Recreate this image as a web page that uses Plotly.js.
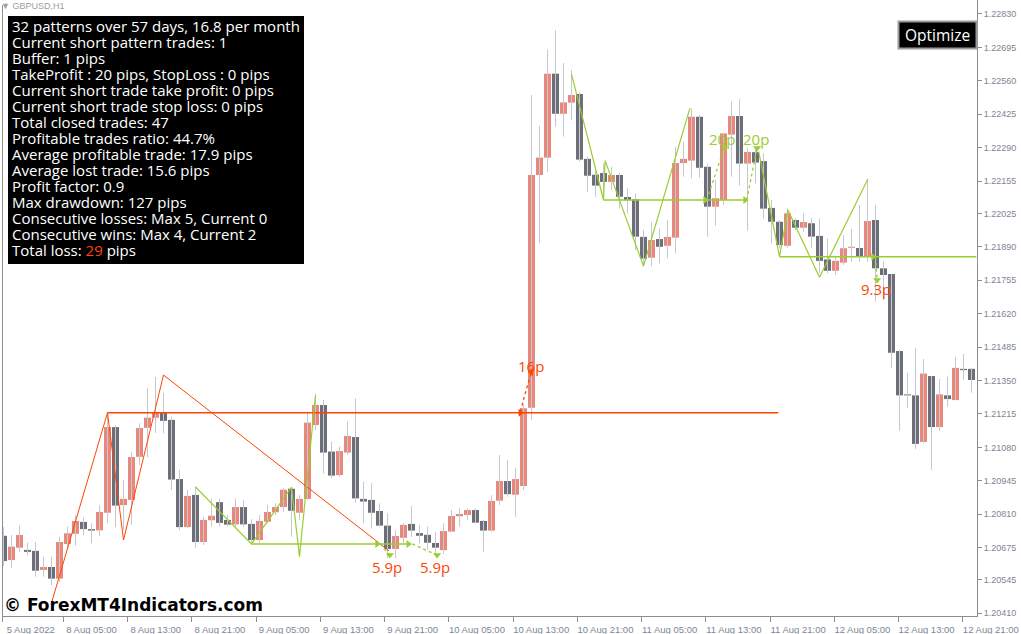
<!DOCTYPE html>
<html>
<head>
<meta charset="utf-8">
<script src="https://cdn.plot.ly/plotly-3.0.1.min.js"></script>
<style>html,body{margin:0;padding:0;background:#fff;}#chart{width:1021px;height:634px;}</style>
</head>
<body>
<div id="chart"></div>
<script>
// ---- GBPUSD H1 candles (index 0 = first visible bar) ----
const opens = [1.20723,1.20625,1.20675,1.20666,1.20662,1.20585,1.20597,1.20550,1.20690,1.20731,
1.20779,1.20750,1.20745,1.20816,1.21162,1.20847,1.20868,1.21042,1.21159,1.21200,
1.21222,1.21191,1.20952,1.20758,1.20888,1.20698,1.20786,1.20859,1.20787,1.20769,
1.20839,1.20771,1.20706,1.20780,1.20818,1.20839,1.20913,1.20816,1.20872,1.21170,
1.21251,1.21063,1.20968,1.21059,1.21122,1.20872,1.20868,1.20823,1.20764,1.20670,
1.20715,1.20771,1.20734,1.20727,1.20694,1.20665,1.20740,1.20802,1.20807,1.20827,
1.20783,1.20744,1.20865,1.20944,1.20889,1.20924,1.21240,1.22180,1.22250,1.22589,
1.22427,1.22472,1.22507,1.22245,1.22181,1.22188,1.22152,1.22180,1.22091,1.22082,
1.21930,1.21846,1.21921,1.21894,1.21927,1.22228,1.22238,1.22415,1.22213,1.22052,
1.22079,1.22343,1.22418,1.22226,1.22272,1.22236,1.22047,1.21991,1.21894,1.21998,
1.21967,1.21985,1.21934,1.21839,1.21793,1.21826,1.21886,1.21885,1.21850,1.21998,
1.21803,1.21780,1.21469,1.21294,1.21290,1.21102,1.21368,1.21162,1.21290,1.21271,
1.21397,1.21397];
const highs = [1.20758,1.20726,1.20764,1.20695,1.20698,1.20639,1.20639,1.20719,1.20760,1.20807,
1.20796,1.20773,1.20846,1.21220,1.21170,1.20948,1.21063,1.21177,1.21320,1.21364,
1.21300,1.21204,1.20989,1.20908,1.20924,1.20800,1.20874,1.20874,1.20807,1.20874,
1.20868,1.20790,1.20807,1.20847,1.20854,1.20915,1.20921,1.20888,1.21218,1.21298,
1.21271,1.21103,1.21083,1.21184,1.21278,1.20941,1.20935,1.20854,1.20814,1.20746,
1.20773,1.20843,1.20767,1.20760,1.20740,1.20773,1.20827,1.20834,1.20834,1.20834,
1.20787,1.20887,1.21049,1.21029,1.20998,1.21255,1.22503,1.22378,1.22687,1.22765,
1.22632,1.22604,1.22516,1.22254,1.22213,1.22227,1.22213,1.22190,1.22126,1.22106,
1.21958,1.21991,1.21965,1.21998,1.22294,1.22314,1.22449,1.22422,1.22227,1.22160,
1.22349,1.22476,1.22486,1.22289,1.22294,1.22268,1.22079,1.21998,1.22045,1.22006,
1.22026,1.22005,1.22005,1.21924,1.21850,1.21938,1.21962,1.22059,1.22160,1.22059,
1.21830,1.21780,1.21473,1.21382,1.21483,1.21437,1.21368,1.21356,1.21365,1.21446,
1.21457,1.21402];
const lows = [1.20601,1.20593,1.20658,1.20645,1.20558,1.20558,1.20524,1.20536,1.20674,1.20683,
1.20726,1.20693,1.20722,1.20773,1.20758,1.20746,1.20767,1.21009,1.21040,1.21138,
1.21137,1.20908,1.20746,1.20754,1.20675,1.20686,1.20760,1.20760,1.20760,1.20758,
1.20758,1.20693,1.20694,1.20773,1.20807,1.20820,1.20719,1.20787,1.20868,1.21150,
1.20975,1.20956,1.20962,1.21049,1.20857,1.20773,1.20753,1.20760,1.20632,1.20632,
1.20693,1.20719,1.20693,1.20666,1.20645,1.20650,1.20740,1.20760,1.20787,1.20773,
1.20659,1.20740,1.20847,1.20881,1.20800,1.20908,1.21191,1.21904,1.22193,1.22375,
1.22335,1.22402,1.22234,1.22110,1.22092,1.22099,1.22119,1.22045,1.22025,1.21877,
1.21810,1.21812,1.21823,1.21844,1.21864,1.22173,1.22167,1.22168,1.21931,1.21975,
1.22059,1.22173,1.22137,1.21955,1.22146,1.22005,1.21904,1.21884,1.21884,1.21958,
1.21950,1.21884,1.21783,1.21783,1.21776,1.21816,1.21830,1.21830,1.21830,1.21668,
1.21675,1.21399,1.21147,1.21240,1.21073,1.21098,1.20989,1.21146,1.21244,1.21271,
1.21352,1.21301];
const closes = [1.20621,1.20679,1.20726,1.20658,1.20582,1.20597,1.20550,1.20698,1.20733,1.20783,
1.20750,1.20744,1.20819,1.21162,1.20845,1.20872,1.21041,1.21158,1.21200,1.21222,
1.21187,1.20950,1.20758,1.20884,1.20698,1.20787,1.20804,1.20775,1.20768,1.20839,
1.20769,1.20706,1.20783,1.20819,1.20839,1.20909,1.20824,1.20872,1.21180,1.21251,
1.21059,1.20966,1.21065,1.21126,1.20874,1.20861,1.20816,1.20764,1.20670,1.20722,
1.20767,1.20744,1.20723,1.20695,1.20675,1.20742,1.20803,1.20811,1.20827,1.20776,
1.20744,1.20864,1.20944,1.20891,1.20952,1.21238,1.22180,1.22250,1.22589,1.22427,
1.22473,1.22503,1.22242,1.22177,1.22137,1.22152,1.22180,1.22092,1.22078,1.21931,
1.21842,1.21917,1.21890,1.21930,1.22228,1.22245,1.22415,1.22209,1.22052,1.22086,
1.22348,1.22418,1.22226,1.22273,1.22230,1.22044,1.21991,1.21897,1.22025,1.21967,
1.21990,1.21931,1.21833,1.21793,1.21833,1.21884,1.21890,1.21850,1.21994,1.21803,
1.21776,1.21462,1.21290,1.21290,1.21094,1.21378,1.21162,1.21294,1.21275,1.21401,
1.21392,1.21352];

// ---- axis ticks ----
const timeTickLabels = ["5 Aug 2022","8 Aug 05:00","8 Aug 13:00","8 Aug 21:00","9 Aug 05:00","9 Aug 13:00","9 Aug 21:00","10 Aug 05:00","10 Aug 13:00","10 Aug 21:00","11 Aug 05:00","11 Aug 13:00","11 Aug 21:00","12 Aug 05:00","12 Aug 13:00","12 Aug 21:00"];
const timeTickIdx = [-0.1,7.5,15.53,23.56,31.59,39.62,47.65,55.68,63.71,71.74,79.77,87.80,95.83,103.86,111.89,119.92];
const priceTickLabels = ["1.20410","1.20545","1.20675","1.20810","1.20945","1.21080","1.21215","1.21350","1.21485","1.21620","1.21755","1.21890","1.22025","1.22155","1.22290","1.22425","1.22560","1.22695","1.22830"];

// ---- pattern indicator drawings (bar index, price) ----
const redZigX = [6, 13, 15, 20, 48.2];
const redZigY = [1.20452, 1.21220, 1.20706, 1.21372, 1.20662];
const redLevelX = [13, 96.85];
const redLevelY = [1.21220, 1.21220];
const redTradeX = [64.6, 65.96];
const redTradeY = [1.21225, 1.21384];

const greenZig1X = [24, 31, 36, 37, 39];
const greenZig1Y = [1.20920, 1.20690, 1.20919, 1.20639, 1.21290];
const greenNeck1X = [31, 50.6];
const greenNeck1Y = [1.20690, 1.20690];
const greenZig2X = [71, 75, 75.2, 80, 85.8];
const greenZig2Y = [1.22587, 1.22079, 1.22238, 1.21812, 1.22450];
const greenNeck2X = [75, 92.9];
const greenNeck2Y = [1.22079, 1.22079];
const greenZig3X = [94.4, 97, 98.05, 102, 108.05];
const greenZig3Y = [1.22274, 1.21850, 1.22039, 1.21767, 1.22164];
const greenNeck3X = [97, 121.6];
const greenNeck3Y = [1.21850, 1.21850];

const tradeLegs = [
  {x:[47.1, 48.3], y:[1.20690, 1.20645]},
  {x:[51.1, 54.2], y:[1.20690, 1.20645]},
  {x:[87.9, 90.1], y:[1.22079, 1.22289]},
  {x:[92.9, 94.2], y:[1.22079, 1.22289]},
  {x:[109.0, 109.2], y:[1.21850, 1.21756]}
];
const entryArrowX = [46.7, 50.6, 87.7, 92.7, 108.7];
const entryArrowY = [1.20690, 1.20690, 1.22079, 1.22079, 1.21850];
const exitArrowX = [48.3, 54.2, 90.1, 94.2, 109.2];
const exitArrowY = [1.20645, 1.20645, 1.22289, 1.22289, 1.21756];
const exitArrowSym = ['triangle-down','triangle-down','triangle-left','triangle-down','triangle-down'];

const resultText = ["5.9p","5.9p","16p","20p","20p","9.3p"];
const resultX = [47.96, 53.96, 65.96, 89.85, 94.05, 109.0];
const resultY = [1.20597, 1.20597, 1.21409, 1.22325, 1.22325, 1.21720];
const resultColor = ['r','r','r','g','g','r'];

const statsLines = [
  "32 patterns over 57 days, 16.8 per month",
  "Current short pattern trades: 1",
  "Buffer: 1 pips",
  "TakeProfit : 20 pips, StopLoss : 0 pips",
  "Current short trade take profit: 0 pips",
  "Current short trade stop loss: 0 pips",
  "Total closed trades: 47",
  "Profitable trades ratio: 44.7%",
  "Average profitable trade: 17.9 pips",
  "Average lost trade: 15.6 pips",
  "Profit factor: 0.9",
  "Max drawdown: 127 pips",
  "Consecutive losses: Max 5, Current 0",
  "Consecutive wins: Max 4, Current 2",
  "Total loss: <span style='color:#FF4500'>29</span> pips"
];

// ---- styling / geometry ----
const UP = '#E8877A', DOWN = '#6C6F77', WICK = '#C6C8D0';
const RED = '#FF4500', GREEN = '#9ACD32';
const AX = '#8E8E8E', TXT = '#7D8694';
const FIG_W = 1021, FIG_H = 634;
const L = 2, R = 977, T = 0, B = 616;          // plot area in pixels
const BAR0 = 3.5, BARSTEP = 8;                 // pixel centre of bar 0, bar spacing
const PY_A = 1.228865, PY_K = 4.038e-5;        // price = PY_A - PY_K * ypixel
const xr = [(L - BAR0) / BARSTEP, (R - BAR0) / BARSTEP];
const yr = [PY_A - PY_K * B, PY_A - PY_K * T];
const pxX = p => (p - L) / (R - L);
const pxY = p => (B - p) / (B - T);

const idx = opens.map((_, i) => i);
const wx = [], wy = [];
idx.forEach(i => { wx.push(i, i, null); wy.push(lows[i], highs[i], null); });
const bodyBase = idx.map(i => Math.min(opens[i], closes[i]));
const bodyLen = idx.map(i => Math.max(Math.abs(closes[i] - opens[i]), 0.00004));
const bodyCol = idx.map(i => closes[i] >= opens[i] ? UP : DOWN);

const traces = [];
traces.push({type:'scatter', mode:'lines', x:wx, y:wy, line:{color:WICK, width:1}, hoverinfo:'skip'});
traces.push({type:'bar', x:idx, y:bodyLen, base:bodyBase, width:0.875,
  marker:{color:bodyCol, line:{width:0}}, hoverinfo:'skip'});

function ln(x, y, color, width, dash) {
  return {type:'scatter', mode:'lines', x:x, y:y, line:{color:color, width:width, dash:dash || 'solid'}, hoverinfo:'skip'};
}
traces.push(ln(redZigX, redZigY, RED, 1));
traces.push(ln(redLevelX, redLevelY, RED, 1.6));
traces.push(ln(greenZig1X, greenZig1Y, GREEN, 1.2));
traces.push(ln(greenNeck1X, greenNeck1Y, GREEN, 1.6));
traces.push(ln(greenZig2X, greenZig2Y, GREEN, 1.2));
traces.push(ln(greenNeck2X, greenNeck2Y, GREEN, 1.6));
traces.push(ln(greenZig3X, greenZig3Y, GREEN, 1.2));
traces.push(ln(greenNeck3X, greenNeck3Y, GREEN, 1.6));
traces.push(ln(redTradeX, redTradeY, RED, 1.3, 'dot'));
tradeLegs.forEach(t => traces.push(ln(t.x, t.y, GREEN, 1.3, 'dot')));
traces.push({type:'scatter', mode:'markers', x:entryArrowX, y:entryArrowY,
  marker:{symbol:'triangle-right', size:7, color:GREEN}, hoverinfo:'skip'});
traces.push({type:'scatter', mode:'markers', x:exitArrowX, y:exitArrowY,
  marker:{symbol:exitArrowSym, size:7, color:GREEN}, hoverinfo:'skip'});
traces.push({type:'scatter', mode:'markers', x:[redTradeX[0]], y:[redLevelY[0]],
  marker:{symbol:'triangle-right', size:7, color:RED}, hoverinfo:'skip'});
traces.push({type:'scatter', mode:'markers', x:[redTradeX[1]], y:[redTradeY[1]],
  marker:{symbol:'triangle-left', size:7, color:RED}, hoverinfo:'skip'});

const annotations = [];
resultText.forEach((t, k) => annotations.push({
  xref:'x', yref:'y', x:resultX[k], y:resultY[k], text:t, showarrow:false,
  xanchor:'center', yanchor:'middle', borderpad:0,
  font:{family:'Open Sans', size:15, color: resultColor[k] === 'r' ? RED : GREEN}
}));
statsLines.forEach((t, k) => annotations.push({
  xref:'paper', yref:'paper', x:pxX(11), y:pxY(26 + 16 * k), text:t, showarrow:false,
  xanchor:'left', yanchor:'middle', align:'left', borderpad:0,
  font:{family:'Open Sans', size:15, color:'#ffffff'}
}));
annotations.push({xref:'paper', yref:'paper', x:pxX(937.5), y:pxY(35), text:'Optimize',
  showarrow:false, xanchor:'center', yanchor:'middle', borderpad:0,
  font:{family:'Open Sans', size:15.5, color:'#ffffff'}});
annotations.push({xref:'paper', yref:'paper', x:pxX(0), y:pxY(6.5), text:'▼ GBPUSD,H1',
  showarrow:false, xanchor:'left', yanchor:'middle', borderpad:0,
  font:{family:'Liberation Sans', size:9, color:'#9a9ea6'}});
annotations.push({xref:'paper', yref:'paper', x:pxX(3), y:pxY(605), text:'© ForexMT4Indicators.com',
  showarrow:false, xanchor:'left', yanchor:'middle', borderpad:0,
  font:{family:'DejaVu Sans', size:17, weight:'bold', color:'#000000'}});

const shapes = [
  {type:'rect', xref:'paper', yref:'paper', x0:pxX(8), x1:pxX(304), y0:pxY(264), y1:pxY(16),
   fillcolor:'#000000', line:{width:0}, layer:'above'},
  {type:'rect', xref:'paper', yref:'paper', x0:pxX(898.5), x1:pxX(976.5), y0:pxY(48.5), y1:pxY(21.5),
   fillcolor:'#000000', line:{color:'#9c9c9c', width:2}, layer:'above'},
  {type:'line', xref:'paper', yref:'paper', x0:pxX(2.5), x1:pxX(2.5), y0:pxY(616), y1:pxY(5),
   line:{color:AX, width:1}, layer:'above'}
];

const layout = {
  width:FIG_W, height:FIG_H,
  margin:{l:L, r:FIG_W - R, t:T, b:FIG_H - B, pad:0},
  paper_bgcolor:'#ffffff', plot_bgcolor:'#ffffff',
  showlegend:false, hovermode:false, barmode:'overlay',
  xaxis:{range:xr, showgrid:false, zeroline:false, showline:true, linecolor:AX, linewidth:1,
    ticks:'outside', ticklen:5, tickcolor:AX, tickvals:timeTickIdx, ticktext:timeTickLabels,
    ticklabelshift:28, tickfont:{family:'Liberation Sans, Arial', size:9.5, color:TXT}, fixedrange:true},
  yaxis:{side:'right', range:yr, showgrid:false, zeroline:false, showline:true, linecolor:AX, linewidth:1,
    ticks:'outside', ticklen:4, tickcolor:AX, tickvals:priceTickLabels.map(Number), ticktext:priceTickLabels,
    tickfont:{family:'Liberation Sans, Arial', size:9, color:TXT}, fixedrange:true},
  shapes:shapes,
  annotations:annotations
};
Plotly.newPlot('chart', traces, layout, {staticPlot:true, displayModeBar:false});
</script>
</body>
</html>
